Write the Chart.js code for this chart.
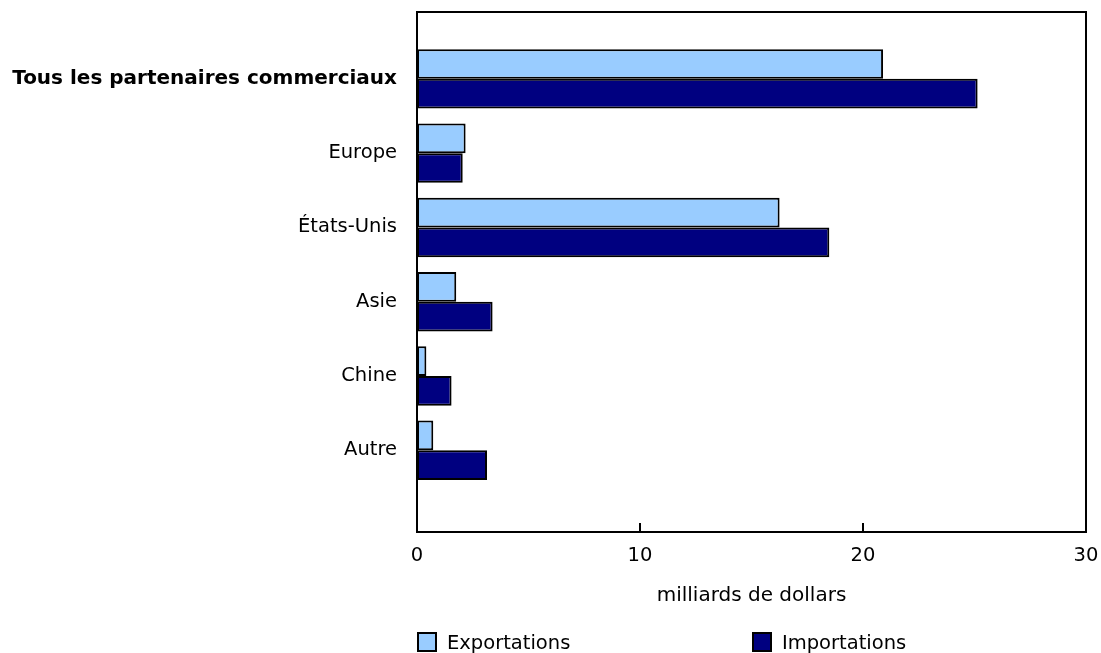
<!DOCTYPE html>
<html>
<head>
<meta charset="utf-8">
<script src="https://cdn.jsdelivr.net/npm/chart.js@4.4.0/dist/chart.umd.min.js"></script>
<style>
    body { margin: 0; background: #fff; }
    #wrap { position: relative; width: 1101px; height: 653px; }
    #legend { position: absolute; left: 0; top: 632px; width: 1101px; height: 21px; font-family: 'DejaVu Sans', sans-serif; font-size: 19.5px; color: #000; }
    .item { position: absolute; top: 0; display: flex; align-items: center; height: 20px; }
    .box { width: 16px; height: 16px; border: 2px solid #000; margin-right: 10px; }
</style>
</head>
<body>
<div id="wrap">
    <canvas id="chart" width="1101" height="653"></canvas>
    <div id="legend"></div>
</div>
<script>
const categories = ['Tous les partenaires commerciaux', 'Europe', 'États-Unis', 'Asie', 'Chine', 'Autre'];
const exportations = [20.9, 2.18, 16.26, 1.76, 0.42, 0.73];
const importations = [25.14, 2.05, 18.49, 3.39, 1.55, 3.14];
const seriesNames = ['Exportations', 'Importations'];
const seriesColors = ['#99ccff', '#000080'];
const xTicks = [0, 10, 20, 30];


function toPoints(values) {
    return values.map((v, i) => ({ x: v, y: i }));
}


// cadre haut/droite + petites graduations vers l'intérieur
const framePlugin = {
    id: 'frame',
    afterDraw(chart) {
        const { ctx, chartArea } = chart;
        const xScale = chart.scales.x;
        ctx.save();
        ctx.strokeStyle = '#000';
        ctx.lineWidth = 2;
        ctx.beginPath();
        ctx.moveTo(chartArea.left, chartArea.top);
        ctx.lineTo(chartArea.right, chartArea.top);
        ctx.lineTo(chartArea.right, chartArea.bottom);
        xScale.ticks.forEach(t => {
            const px = Math.round(xScale.getPixelForValue(t.value));
            ctx.moveTo(px, chartArea.bottom);
            ctx.lineTo(px, chartArea.bottom - 9);
        });
        ctx.stroke();
        ctx.restore();
    }
};


function renderLegend() {
    let legend = document.getElementById('legend');
    const lefts = [417, 752];
    legend.innerHTML = '';
    for (let i = 0; i < seriesNames.length; i++) {
        legend.innerHTML += `
            <div class="item" style="left:${lefts[i]}px">
                <div class="box" style="background:${seriesColors[i]}"></div>
                <span>${seriesNames[i]}</span>
            </div>`;
    }
}


function createChart() {
    Chart.defaults.font.family = "'DejaVu Sans', sans-serif";
    Chart.defaults.font.size = 19.5;
    Chart.defaults.color = '#000';

    const ctx = document.getElementById('chart').getContext('2d');
    new Chart(ctx, {
        type: 'bar',
        data: {
            datasets: [{
                label: seriesNames[0],
                data: toPoints(exportations),
                backgroundColor: seriesColors[0],
                borderColor: '#000',
                borderWidth: 2,
                borderSkipped: false
            }, {
                label: seriesNames[1],
                data: toPoints(importations),
                backgroundColor: seriesColors[1],
                borderColor: '#000',
                borderWidth: 2,
                borderSkipped: false
            }]
        },
        options: {
            indexAxis: 'y',
            responsive: false,
            animation: false,
            categoryPercentage: 0.8,
            barPercentage: 1.0,
            layout: { padding: { top: 12, right: 15, bottom: 45, left: 0 } },
            plugins: {
                legend: { display: false },
                tooltip: { enabled: false }
            },
            scales: {
                x: {
                    type: 'linear',
                    position: 'bottom',
                    min: 0,
                    max: 30,
                    afterBuildTicks: s => { s.ticks = xTicks.map(v => ({ value: v })); },
                    afterFit: s => {
                        s.height = 76;
                        s.paddingLeft = 0;
                        s.paddingRight = 0;
                    },
                    grid: { display: false, drawTicks: false },
                    border: { display: true, color: '#000', width: 2 },
                    ticks: { padding: 12, maxRotation: 0 },
                    title: { display: true, text: 'milliards de dollars', padding: 0, font: { size: 20 } }
                },
                y: {
                    type: 'linear',
                    reverse: true,
                    offset: false,
                    bounds: 'data',
                    min: -0.9,
                    max: 6.1,
                    afterBuildTicks: s => { s.ticks = categories.map((c, i) => ({ value: i })); },
                    afterFit: s => {
                        s.width = 417;
                        s.paddingTop = 0;
                        s.paddingBottom = 0;
                    },
                    grid: { display: false, drawTicks: false },
                    border: { display: true, color: '#000', width: 2 },
                    ticks: {
                        padding: 20,
                        autoSkip: false,
                        callback: v => categories[v],
                        font: c => ({ size: c.index === 0 ? 20 : 19.5, weight: c.index === 0 ? 'bold' : 'normal' })
                    }
                }
            }
        },
        plugins: [framePlugin]
    });
}


renderLegend();
createChart();
</script>
</body>
</html>
